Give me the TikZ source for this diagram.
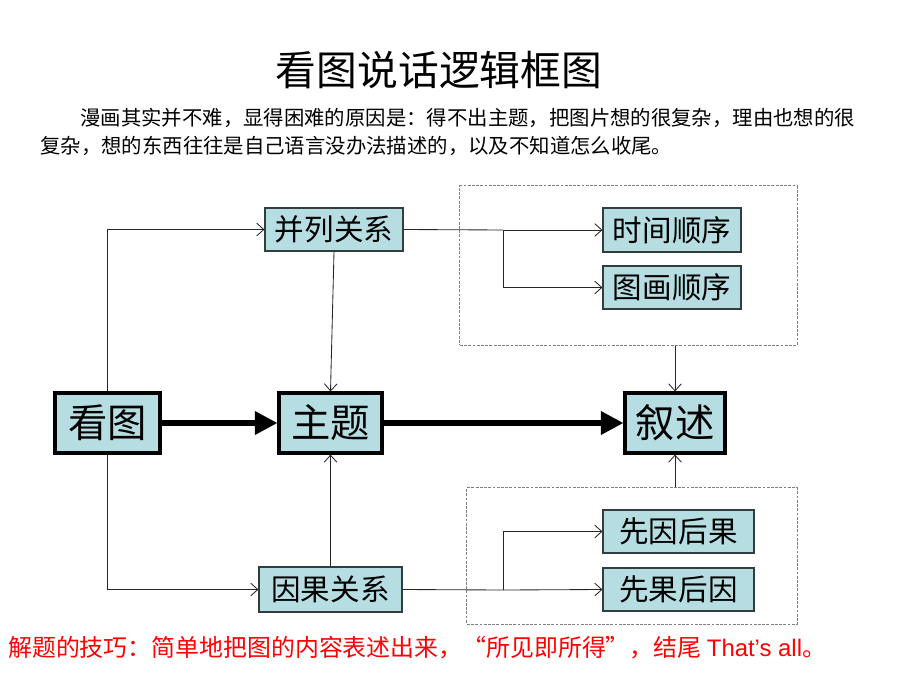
\documentclass[tikz,border=0pt]{standalone}
\usepackage{fontspec}
\setmainfont{Liberation Sans}
\newfontfamily\cjk{Noto Sans CJK SC}
\usetikzlibrary{arrows.meta,positioning}
\definecolor{boxfill}{RGB}{182,222,226}
\definecolor{boxline}{RGB}{50,62,62}
\definecolor{tipred}{RGB}{255,0,0}

\begin{document}
\begin{tikzpicture}[
    x=0.025cm, y=-0.025cm,
    bigbox/.style={rectangle, draw=black, line width=2.2pt, fill=boxfill, inner sep=0pt,
                   minimum height=1.5cm, font=\cjk\fontsize{28}{28}\selectfont},
    subbox/.style={rectangle, draw=boxline, line width=0.8pt, fill=boxfill, inner sep=0pt,
                   font=\cjk\fontsize{21}{21}\selectfont},
    groupbox/.style={rectangle, draw=gray, line width=0.7pt, dash pattern=on 2pt off 1pt},
    link/.style={line width=0.6pt, draw=black!85},
    arrow/.style={link, -{Straight Barb[length=5pt,width=9pt]}},
    mainarrow/.style={line width=3.6pt, -{Triangle[length=16pt,width=16pt]}}
]
\useasboundingbox (0,0) rectangle (920,690);

% Title and explanation
\node (title) at (439,70) {\cjk\fontsize{29}{29}\selectfont 看图说话逻辑框图};
\node[anchor=west, inner sep=0pt] (para1) at (80,118)
    {\cjk\fontsize{14.5}{14.5}\selectfont 漫画其实并不难，显得困难的原因是：得不出主题，把图片想的很复杂，理由也想的很};
\node[anchor=west, inner sep=0pt] (para2) at (40,146)
    {\cjk\fontsize{14.5}{14.5}\selectfont 复杂，想的东西往往是自己语言没办法描述的，以及不知道怎么收尾。};

% Main row
\node[bigbox, minimum width=2.625cm] (kantu) at (107.5,423) {看图};
\node[bigbox, minimum width=2.575cm] (zhuti) at (330.5,423) {主题};
\node[bigbox, minimum width=2.5cm] (xushu) at (675,423) {叙述};

% Relations
\node[subbox, minimum width=3.45cm, minimum height=1.075cm] (binglie) at (334,229.5) {并列关系};
\node[subbox, minimum width=3.575cm, minimum height=1.125cm] (yinguo) at (330.5,589.5) {因果关系};

% Orders
\node[groupbox, minimum width=8.425cm, minimum height=3.975cm] (orders) at (628.5,265.5) {};
\node[subbox, minimum width=3.45cm, minimum height=1.1cm] (shijian) at (672,230) {时间顺序};
\node[subbox, minimum width=3.45cm, minimum height=1.075cm] (tuhua) at (672,287.5) {图画顺序};

% Causes
\node[groupbox, minimum width=8.25cm, minimum height=3.4cm] (causes) at (632,556) {};
\node[subbox, minimum width=3.775cm, minimum height=1.075cm] (xianyin) at (678.5,531.5) {先因后果};
\node[subbox, minimum width=3.775cm, minimum height=1.075cm] (xianguo) at (678.5,589.5) {先果后因};

\coordinate (splitA) at (503,230);
\coordinate (splitB) at (503,590);

% Arrows
\draw[mainarrow] (kantu) -- (zhuti);
\draw[mainarrow] (zhuti) -- (xushu);
\draw[arrow] (kantu.north) |- (binglie.west);
\draw[arrow] (kantu.south) |- (yinguo.west);
\draw[arrow] (binglie.south) -- (zhuti.north);
\draw[arrow] (yinguo.north) -- (zhuti.south);
\draw[link] (binglie.east) -- (splitA);
\draw[arrow] (splitA) -- (shijian.west);
\draw[arrow] (splitA) |- (tuhua.west);
\draw[link] (yinguo.east) -- (splitB);
\draw[arrow] (splitB) -- (xianguo.west);
\draw[arrow] (splitB) |- (xianyin.west);
\draw[arrow] (xushu |- orders.south) -- (xushu.north);
\draw[arrow] (xushu |- causes.north) -- (xushu.south);

% Tip
\node[anchor=west, inner sep=0pt, text=tipred] (tip) at (8,648)
    {\fontsize{17}{17}\selectfont\cjk 解题的技巧：简单地把图的内容表述出来，“所见即所得”，结尾\ {\rmfamily That’s all}。};

\end{tikzpicture}
\end{document}
